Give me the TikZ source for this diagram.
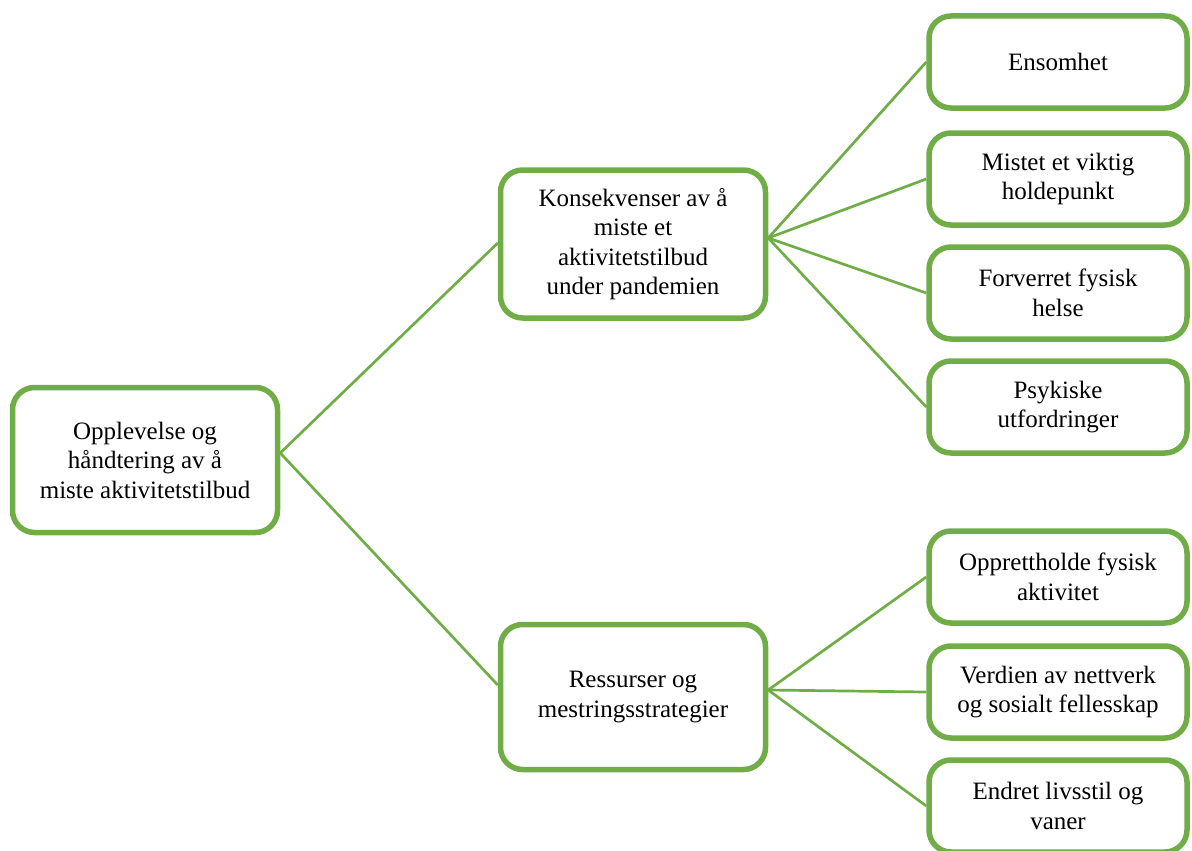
\documentclass[tikz,border=0pt]{standalone}
\usepackage{fontspec}
\setmainfont{Liberation Serif}
\definecolor{ofgreen}{HTML}{70AD47}
\begin{document}
\begin{tikzpicture}[x=1pt,y=-1pt,
  box/.style={draw=ofgreen, line width=5.5pt, rounded corners=22pt, fill=white,
    align=center, inner sep=0pt, font=\fontsize{25}{29.5}\selectfont},
  rootbox/.style={box, minimum width=265pt, minimum height=145pt},
  midbox/.style={box, minimum width=265pt, minimum height=148pt},
  leafbox/.style={box, minimum width=258pt, minimum height=92pt},
  conn/.style={draw=ofgreen, line width=2.7pt}]
\useasboundingbox (0,0) rectangle (1192,851);
\node[rootbox] (root) at (145,460) {Opplevelse og\\håndtering av å\\miste aktivitetstilbud};
\node[midbox] (m1) at (633,244) {Konsekvenser av å\\miste et\\aktivitetstilbud\\under pandemien};
\node[midbox, minimum height=145pt] (m2) at (633,697) {Ressurser og\\mestringsstrategier};
\node[leafbox] (l1) at (1058,62) {Ensomhet};
\node[leafbox] (l2) at (1058,179) {Mistet et viktig\\holdepunkt};
\node[leafbox] (l3) at (1058,293) {Forverret fysisk\\helse};
\node[leafbox] (l4) at (1058,407) {Psykiske\\utfordringer};
\node[leafbox] (l5) at (1058,577) {Opprettholde fysisk\\aktivitet};
\node[leafbox] (l6) at (1058,692) {Verdien av nettverk\\og sosialt fellesskap};
\node[leafbox] (l7) at (1058,806) {Endret livsstil og\\vaner};
\coordinate (re) at ([yshift=7pt]root.east);
\coordinate (m1e) at ([yshift=6pt]m1.east);
\coordinate (m1w) at ([yshift=1pt]m1.west);
\coordinate (m2e) at ([yshift=7pt]m2.east);
\coordinate (m2w) at ([yshift=12pt]m2.west);
\draw[conn] (re) -- (m1w);
\draw[conn] (re) -- (m2w);
\draw[conn] (m1e) -- (l1.west);
\draw[conn] (m1e) -- (l2.west);
\draw[conn] (m1e) -- (l3.west);
\draw[conn] (m1e) -- (l4.west);
\draw[conn] (m2e) -- (l5.west);
\draw[conn] (m2e) -- (l6.west);
\draw[conn] (m2e) -- (l7.west);
\end{tikzpicture}
\end{document}
